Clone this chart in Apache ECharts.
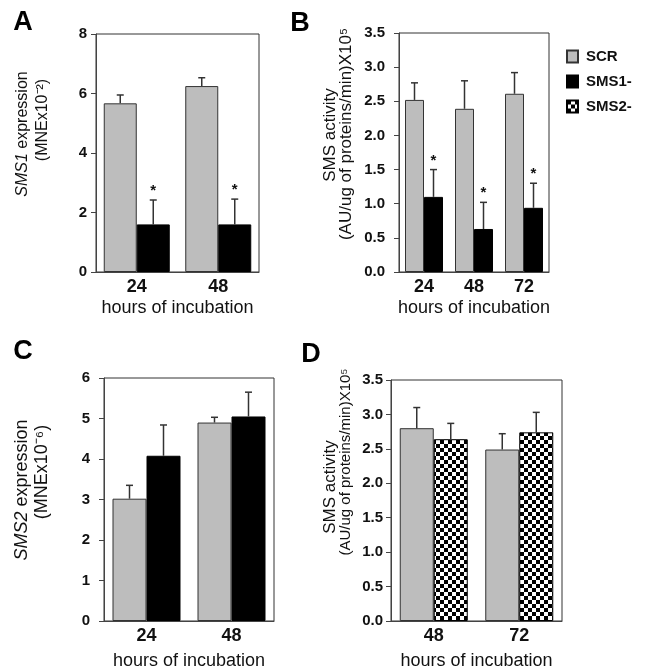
<!DOCTYPE html>
<html>
<head>
<meta charset="utf-8">
<script src="https://cdn.jsdelivr.net/npm/echarts@6/dist/echarts.min.js"></script>
<style>
  html, body { margin: 0; padding: 0; background: #fff; }
  #main { width: 659px; height: 671px; }
</style>
</head>
<body>
<div id="main"></div>
<script>
// 数据
var hoursA = ['24', '48'];
var scrA = [5.67, 6.25];
var scrAUp = [5.95, 6.53];
var sms1A = [1.6, 1.6];
var sms1AUp = [2.42, 2.45];

var hoursB = ['24', '48', '72'];
var scrB = [2.52, 2.39, 2.61];
var scrBUp = [2.77, 2.80, 2.92];
var sms1B = [1.10, 0.63, 0.94];
var sms1BUp = [1.50, 1.02, 1.30];

var hoursC = ['24', '48'];
var scrC = [3.02, 4.90];
var scrCUp = [3.35, 5.03];
var sms1C = [4.08, 5.05];
var sms1CUp = [4.84, 5.65];

var hoursD = ['48', '72'];
var scrD = [2.80, 2.49];
var scrDUp = [3.10, 2.72];
var sms2D = [2.64, 2.74];
var sms2DUp = [2.87, 3.03];

var FONT = 'Liberation Sans, Arial, sans-serif';
var GREY = '#bdbdbd';

// 棋盘格填充
function checker() {
    var c = document.createElement('canvas');
    c.width = 8; c.height = 8;
    var ctx = c.getContext('2d');
    ctx.fillStyle = '#fff';
    ctx.fillRect(0, 0, 8, 8);
    ctx.fillStyle = '#000';
    ctx.fillRect(0, 0, 4, 4);
    ctx.fillRect(4, 4, 4, 4);
    return { image: c, repeat: 'repeat' };
}
var checkerFill = checker();

function errData(vals, ups, star) {
    var out = [];
    for (var i = 0; i < vals.length; i++) {
        out.push([i, vals[i], ups[i], star ? 1 : 0]);
    }
    return out;
}

// 误差线
function errSeries(idx, vals, ups, offset, star) {
    return {
        type: 'custom',
        xAxisIndex: idx,
        yAxisIndex: idx,
        z: 10,
        silent: true,
        data: errData(vals, ups, star),
        renderItem: function(params, api) {
            var p0 = api.coord([api.value(0), api.value(1)]);
            var p1 = api.coord([api.value(0), api.value(2)]);
            var x = p0[0] + offset;
            var kids = [{
                type: 'line',
                shape: { x1: x, y1: p0[1], x2: x, y2: p1[1] },
                style: { stroke: '#333', lineWidth: 1.5 }
            }, {
                type: 'line',
                shape: { x1: x - 3.5, y1: p1[1], x2: x + 3.5, y2: p1[1] },
                style: { stroke: '#333', lineWidth: 1.5 }
            }];
            if (api.value(3)) {
                kids.push({
                    type: 'text',
                    x: x,
                    y: p1[1] - 9,
                    style: {
                        text: '*', fill: '#111', font: 'bold 15px ' + FONT,
                        align: 'center', verticalAlign: 'middle'
                    }
                });
            }
            return { type: 'group', children: kids };
        }
    };
}

function barSeries(idx, name, vals, color, border, bw) {
    return {
        type: 'bar',
        name: name,
        xAxisIndex: idx,
        yAxisIndex: idx,
        data: vals,
        barWidth: bw,
        barGap: '0%',
        itemStyle: { color: color, borderColor: border, borderWidth: 1 }
    };
}

function xAx(idx, data, gap) {
    return {
        type: 'category',
        gridIndex: idx,
        data: data,
        axisLine: { show: true, lineStyle: { color: '#444', width: 1 } },
        axisTick: { show: false },
        axisLabel: { color: '#111', fontFamily: FONT, fontWeight: 'bold', fontSize: 18, margin: 6 },
        name: 'hours of incubation',
        nameLocation: 'middle',
        nameGap: gap,
        nameTextStyle: { color: '#111', fontFamily: FONT, fontSize: 18 }
    };
}

function yAx(idx, max, step, dec, margin) {
    return {
        type: 'value',
        gridIndex: idx,
        min: 0,
        max: max,
        interval: step,
        splitLine: { show: false },
        axisLine: { show: true, lineStyle: { color: '#444', width: 1 } },
        axisTick: { show: true, length: 5, lineStyle: { color: '#444' } },
        axisLabel: {
            color: '#111', fontFamily: FONT, fontWeight: 'bold', fontSize: 15, margin: margin,
            formatter: function(v) { return v.toFixed(dec); }
        }
    };
}

function gridBox(l, t, w, h) {
    return { left: l, top: t, width: w, height: h, show: true, borderColor: '#333', borderWidth: 1, backgroundColor: 'transparent' };
}

function vText(x, y, text, size) {
    return {
        type: 'text', x: x, y: y, rotation: Math.PI / 2,
        style: {
            text: text, fill: '#111', font: size + 'px ' + FONT,
            align: 'center', verticalAlign: 'middle',
            rich: {
                i: { fontStyle: 'italic', fontSize: size, fontFamily: FONT, fill: '#111' }
            }
        }
    };
}

function letter(x, y, t) {
    return {
        type: 'text', x: x, y: y,
        style: { text: t, fill: '#000', font: 'bold 27px ' + FONT, align: 'center', verticalAlign: 'middle' }
    };
}

var myChart = echarts.init(document.getElementById('main'));
var option = {
    backgroundColor: '#fff',
    animation: false,
    legend: {
        orient: 'vertical',
        left: 561,
        top: 44,
        icon: 'rect',
        itemWidth: 11,
        itemHeight: 12,
        itemGap: 10,
        selectedMode: false,
        data: ['SCR', 'SMS1-', 'SMS2-'],
        textStyle: { color: '#111', fontFamily: FONT, fontWeight: 'bold', fontSize: 15, padding: [0, 0, 0, 3] }
    },
    grid: [
        gridBox(96, 34, 163, 238),
        gridBox(399, 33, 150, 239),
        gridBox(104, 378, 170, 248),
        gridBox(391, 380, 171, 243)
    ],
    xAxis: [
        xAx(0, hoursA, 27),
        xAx(1, hoursB, 27),
        xAx(2, hoursC, 31),
        xAx(3, hoursD, 31)
    ],
    yAxis: [
        yAx(0, 8, 2, 0, 9),
        yAx(1, 3.5, 0.5, 1, 14),
        yAx(2, 6, 1, 0, 14),
        yAx(3, 3.5, 0.5, 1, 8)
    ],
    graphic: [
        letter(23, 23, 'A'),
        letter(300, 24, 'B'),
        letter(23, 352, 'C'),
        letter(311, 355, 'D'),
        vText(23, 134, '{i|SMS1} expression', 16),
        vText(43, 120, '(MNEx10⁻²)', 16),
        vText(330, 135, 'SMS activity', 17),
        vText(346, 134, '(AU/ug of proteins/min)X10⁵', 17),
        vText(22, 490, '{i|SMS2} expression', 18),
        vText(42, 472, '(MNEx10⁻⁶)', 18),
        vText(330, 487, 'SMS activity', 17),
        vText(346, 462, '(AU/ug of proteins/min)X10⁵', 15)
    ],
    series: [
        barSeries(0, 'SCR', scrA, GREY, '#333', 33),
        barSeries(0, 'SMS1-', sms1A, '#000', '#000', 33),
        errSeries(0, scrA, scrAUp, -16.5, false),
        errSeries(0, sms1A, sms1AUp, 16.5, true),

        barSeries(1, 'SCR', scrB, GREY, '#333', 19),
        barSeries(1, 'SMS1-', sms1B, '#000', '#000', 19),
        errSeries(1, scrB, scrBUp, -9.5, false),
        errSeries(1, sms1B, sms1BUp, 9.5, true),

        barSeries(2, 'SCR', scrC, GREY, '#333', 34),
        barSeries(2, 'SMS1-', sms1C, '#000', '#000', 34),
        errSeries(2, scrC, scrCUp, -17, false),
        errSeries(2, sms1C, sms1CUp, 17, false),

        barSeries(3, 'SCR', scrD, GREY, '#333', 34),
        barSeries(3, 'SMS2-', sms2D, checkerFill, '#000', 34),
        errSeries(3, scrD, scrDUp, -17, false),
        errSeries(3, sms2D, sms2DUp, 17, false)
    ]
};
myChart.setOption(option);
</script>
</body>
</html>
